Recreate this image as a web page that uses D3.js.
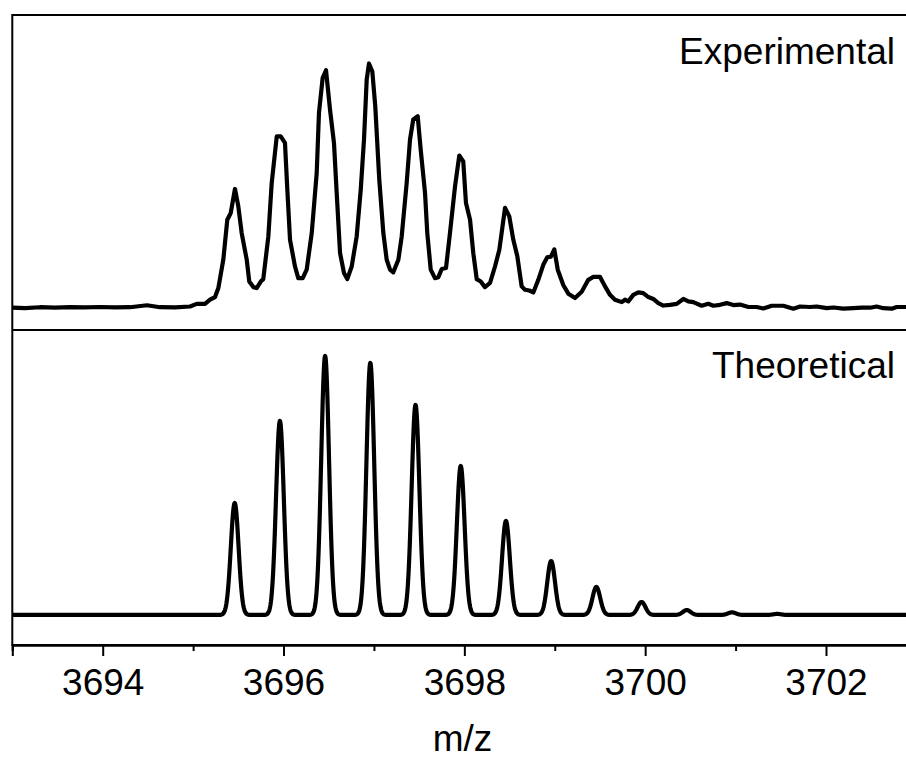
<!DOCTYPE html>
<html>
<head>
<meta charset="utf-8">
<script src="https://cdn.jsdelivr.net/npm/d3@7"></script>
<style>
  html, body { margin: 0; padding: 0; background: #fff; }
  svg { display: block; }
  text { font-family: "Liberation Sans", Arial, sans-serif; fill: #000; }
</style>
</head>
<body>
<svg id="chart" width="906" height="760"></svg>
<script>
// Axis range and ticks (m/z)
const mzDomain = [3693, 3703];
const majorTicks = [3694, 3696, 3698, 3700, 3702];
const minorTicks = [3693, 3695, 3697, 3699, 3701, 3703];

// Panel labels
const panelLabels = ["Experimental", "Theoretical"];
const axisTitle = "m/z";

// Measured spectrum: [m/z, relative intensity %]
const experimental = [
  [3693.000, -0.8], [3693.140, -1.0], [3693.306, -0.6], [3693.472, -0.8],
  [3693.638, -0.6], [3693.804, -0.7], [3693.970, -0.5], [3694.136, -0.7],
  [3694.302, -0.6], [3694.490, 0.2], [3694.634, -0.6], [3694.800, -0.7],
  [3694.966, -0.3], [3695.040, 0.8], [3695.132, 0.8], [3695.187, 2.5],
  [3695.242, 3.6], [3695.279, 7.3], [3695.334, 19.0], [3695.378, 35.5],
  [3695.416, 38.3], [3695.463, 48.2], [3695.500, 41.0], [3695.537, 30.0],
  [3695.593, 19.0], [3695.621, 10.0], [3695.666, 7.7], [3695.703, 7.3],
  [3695.748, 10.0], [3695.776, 11.0], [3695.832, 28.6], [3695.869, 50.6],
  [3695.925, 69.9], [3695.969, 69.9], [3696.016, 67.2], [3696.042, 47.9],
  [3696.072, 27.2], [3696.127, 16.2], [3696.163, 11.4], [3696.212, 11.4],
  [3696.256, 14.9], [3696.312, 30.0], [3696.367, 54.8], [3696.392, 79.6],
  [3696.433, 94.1], [3696.470, 97.2], [3696.514, 81.0], [3696.558, 67.2],
  [3696.588, 46.6], [3696.625, 21.8], [3696.669, 13.5], [3696.705, 11.0],
  [3696.754, 16.2], [3696.809, 28.6], [3696.854, 47.9], [3696.890, 68.6],
  [3696.920, 93.4], [3696.945, 100.0], [3696.982, 96.7], [3697.015, 82.2],
  [3697.059, 52.1], [3697.104, 30.0], [3697.141, 19.0], [3697.178, 14.9],
  [3697.214, 13.8], [3697.270, 19.0], [3697.307, 28.6], [3697.362, 50.6],
  [3697.399, 68.6], [3697.435, 76.9], [3697.484, 78.2], [3697.517, 64.5],
  [3697.565, 46.6], [3697.590, 30.0], [3697.628, 14.9], [3697.675, 11.4],
  [3697.712, 11.8], [3697.750, 15.2], [3697.797, 15.6], [3697.841, 30.0],
  [3697.897, 49.3], [3697.944, 62.0], [3697.988, 59.6], [3698.018, 42.4],
  [3698.063, 35.5], [3698.099, 21.7], [3698.137, 11.0], [3698.181, 10.0],
  [3698.228, 7.7], [3698.284, 9.4], [3698.339, 16.2], [3698.387, 23.1],
  [3698.450, 40.4], [3698.497, 36.9], [3698.541, 27.3], [3698.586, 20.4],
  [3698.634, 8.0], [3698.671, 6.6], [3698.718, 6.3], [3698.763, 5.5],
  [3698.818, 10.7], [3698.873, 16.9], [3698.917, 20.0], [3698.958, 20.3],
  [3698.995, 23.3], [3699.033, 14.9], [3699.094, 8.6], [3699.150, 5.0],
  [3699.224, 3.2], [3699.298, 5.8], [3699.371, 10.7], [3699.427, 11.9],
  [3699.501, 11.9], [3699.556, 8.0], [3699.611, 4.5], [3699.666, 2.5],
  [3699.741, 1.5], [3699.777, 2.5], [3699.813, 1.8], [3699.869, 4.5],
  [3699.924, 5.5], [3699.979, 5.2], [3700.035, 3.6], [3700.090, 2.8],
  [3700.145, 1.1], [3700.201, 0.1], [3700.275, 0.4], [3700.349, 0.8],
  [3700.422, 2.8], [3700.477, 1.8], [3700.532, 1.5], [3700.625, 0.0],
  [3700.698, 0.8], [3700.754, 0.0], [3700.828, 0.4], [3700.902, 1.1],
  [3700.975, 0.3], [3701.049, 0.5], [3701.141, -0.5], [3701.234, -0.5],
  [3701.307, -1.1], [3701.400, 0.0], [3701.528, 0.0], [3701.639, -1.2],
  [3701.713, -0.3], [3701.823, -0.5], [3701.897, -0.3], [3702.008, -1.0],
  [3702.081, -0.7], [3702.192, -1.2], [3702.302, -1.0], [3702.395, -0.8],
  [3702.487, -0.8], [3702.561, -0.3], [3702.634, -1.0], [3702.727, -1.2],
  [3702.782, -0.5], [3702.885, -0.5], [3703.000, -0.6]
];

// Calculated isotope pattern: centroid m/z and relative abundance %
const isotopeMz = [3695.46, 3695.96, 3696.46, 3696.96, 3697.46, 3697.96, 3698.46,
                   3698.96, 3699.46, 3699.96, 3700.46, 3700.96, 3701.46];
const isotopeAbundance = [43.2, 74.9, 100.0, 97.3, 81.1, 57.5, 36.3,
                          20.8, 10.8, 5.0, 1.9, 1.0, 0.4];
// Gaussian peak width (sigma, m/z units) used to render the profile
const peakSigma = 0.043;

(function draw() {
  const svg = d3.select("#chart");
  svg.append("rect").attr("width", 906).attr("height", 760).attr("fill", "#fff");

  const plotLeft = 12.3, plotRight = 916.4, plotTop = 15, plotMid = 330, plotBottom = 645;
  const traceWidth = 4.2;

  const x = d3.scaleLinear().domain(mzDomain).range([plotLeft, plotRight]);
  const yTop = d3.scaleLinear().domain([-10, 120]).range([plotMid, plotTop]);
  const yBot = d3.scaleLinear().domain([-11.6, 110]).range([plotBottom, plotMid]);

  // Profile for the calculated pattern: sticks broadened by a Gaussian
  const profileMz = d3.range(mzDomain[0], mzDomain[1] + 1e-9, 0.004);
  const theoretical = profileMz.map(m => {
    let s = 0;
    isotopeMz.forEach((c, i) => {
      const d = (m - c) / peakSigma;
      s += isotopeAbundance[i] * Math.exp(-0.5 * d * d);
    });
    return [m, s];
  });

  svg.append("clipPath").attr("id", "clipTop")
    .append("rect").attr("x", plotLeft).attr("y", plotTop)
    .attr("width", plotRight - plotLeft).attr("height", plotMid - plotTop);
  svg.append("clipPath").attr("id", "clipBot")
    .append("rect").attr("x", plotLeft).attr("y", plotMid)
    .attr("width", plotRight - plotLeft).attr("height", plotBottom - plotMid);

  const lineTop = d3.line().x(d => x(d[0])).y(d => yTop(d[1]));
  const lineBot = d3.line().x(d => x(d[0])).y(d => yBot(d[1]));

  svg.append("path")
    .datum(experimental)
    .attr("clip-path", "url(#clipTop)")
    .attr("d", lineTop)
    .attr("fill", "none")
    .attr("stroke", "#000")
    .attr("stroke-width", traceWidth)
    .attr("stroke-linejoin", "round")
    .attr("stroke-linecap", "round");

  svg.append("path")
    .datum(theoretical)
    .attr("clip-path", "url(#clipBot)")
    .attr("d", lineBot)
    .attr("fill", "none")
    .attr("stroke", "#000")
    .attr("stroke-width", traceWidth)
    .attr("stroke-linejoin", "round");

  // Frame and panel divider
  svg.append("rect")
    .attr("x", plotLeft).attr("y", plotTop)
    .attr("width", plotRight - plotLeft).attr("height", plotBottom - plotTop)
    .attr("fill", "none").attr("stroke", "#000").attr("stroke-width", 2);
  svg.append("line")
    .attr("x1", plotLeft).attr("x2", plotRight)
    .attr("y1", plotMid).attr("y2", plotMid)
    .attr("stroke", "#000").attr("stroke-width", 2);

  // Bottom m/z axis: major ticks with labels, minor ticks without
  const majorAxis = d3.axisBottom(x)
    .tickValues(majorTicks)
    .tickSize(11)
    .tickPadding(12.5)
    .tickFormat(d3.format("d"));
  const minorAxis = d3.axisBottom(x)
    .tickValues(minorTicks)
    .tickSize(6)
    .tickFormat("");

  const gMinor = svg.append("g").attr("transform", `translate(0,${plotBottom})`).call(minorAxis);
  const gMajor = svg.append("g").attr("transform", `translate(0,${plotBottom})`).call(majorAxis);
  [gMinor, gMajor].forEach(g => {
    g.select(".domain").attr("stroke-width", 2);
    g.selectAll(".tick line").attr("stroke-width", 2);
  });
  gMajor.selectAll(".tick text")
    .style("font-family", '"Liberation Sans", Arial, sans-serif')
    .style("font-size", "37px")
    .attr("fill", "#000");

  // Panel labels
  svg.append("text")
    .attr("x", 895).attr("y", 63.5)
    .attr("text-anchor", "end")
    .style("font-size", "37px")
    .text(panelLabels[0]);
  svg.append("text")
    .attr("x", 895).attr("y", 377.5)
    .attr("text-anchor", "end")
    .style("font-size", "37px")
    .text(panelLabels[1]);

  // Axis title
  svg.append("text")
    .attr("x", 462.5).attr("y", 751)
    .attr("text-anchor", "middle")
    .style("font-size", "37px")
    .text(axisTitle);
})();
</script>
</body>
</html>
